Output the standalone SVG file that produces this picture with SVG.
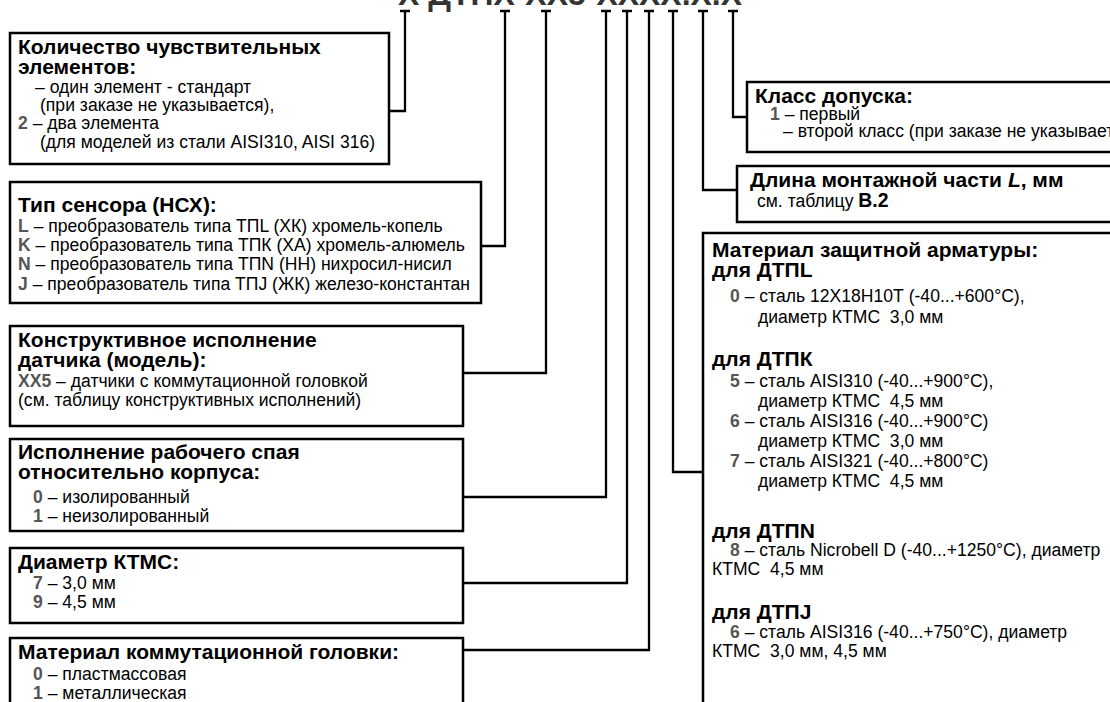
<svg xmlns="http://www.w3.org/2000/svg" width="1110" height="702" viewBox="0 0 1110 702">
<style>
.box{fill:#fff;stroke:#000;stroke-width:2.5}
.ln{fill:none;stroke:#000;stroke-width:2.3}
.h{font-family:"Liberation Sans",Arial,sans-serif;font-weight:bold;font-size:21px;fill:#000}
.t{font-family:"Liberation Sans",Arial,sans-serif;font-size:19px;fill:#000}
.c{font-weight:bold;fill:#555}
.title{font-family:"Liberation Sans",Arial,sans-serif;font-weight:bold;font-size:32px;fill:#333}
</style>
<rect width="1110" height="702" fill="#fff"/>

<!-- designation code, mostly above the top edge -->
<text class="title" x="398" y="5" textLength="344" lengthAdjust="spacingAndGlyphs">Х ДТПХ-ХХ5-ХХХХ.Х.Х</text>

<g id="connectors">
  <path class="ln" d="M400 11h10M500 11h10M541 11h10M601 11h10M622 11h10M644 11h10M668 11h10M698 11h10M728 11h10"/>
  <path class="ln" d="M405 11V111H389"/>
  <path class="ln" d="M505 11V246H481"/>
  <path class="ln" d="M546 11V373H463"/>
  <path class="ln" d="M606 11V497H463"/>
  <path class="ln" d="M627 11V583H463"/>
  <path class="ln" d="M649 11V650H463"/>
  <path class="ln" d="M673 11V472H703"/>
  <path class="ln" d="M703 11V190H737"/>
  <path class="ln" d="M733 11V117H747"/>
</g>

<!-- condensed body text: regular face squeezed horizontally -->
<g id="count">
  <rect class="box" x="10" y="33" width="379" height="131"/>
  <text class="h" x="18" y="54">Количество чувствительных</text>
  <text class="h" x="18" y="74">элементов:</text>
  <text class="t" transform="translate(35 93) scale(.925 1)">– один элемент - стандарт</text>
  <text class="t" transform="translate(40 111) scale(.925 1)">(при заказе не указывается),</text>
  <text class="t" transform="translate(18 129) scale(.925 1)"><tspan class="c">2</tspan> – два элемента</text>
  <text class="t" transform="translate(40 148) scale(.925 1)">(для моделей из стали AISI310, AISI 316)</text>
</g>

<g id="sensor-type">
  <rect class="box" x="10" y="182" width="471" height="121"/>
  <text class="h" x="18" y="212">Тип сенсора (НСХ):</text>
  <text class="t" transform="translate(18 232) scale(.925 1)"><tspan class="c">L</tspan> – преобразователь типа ТПL (ХК) хромель-копель</text>
  <text class="t" transform="translate(18 251) scale(.925 1)"><tspan class="c">K</tspan> – преобразователь типа ТПК (ХА) хромель-алюмель</text>
  <text class="t" transform="translate(18 270) scale(.925 1)"><tspan class="c">N</tspan> – преобразователь типа ТПN (НН) нихросил-нисил</text>
  <text class="t" transform="translate(18 290) scale(.925 1)"><tspan class="c">J</tspan> – преобразователь типа ТПJ (ЖК) железо-константан</text>
</g>

<g id="model">
  <rect class="box" x="10" y="326" width="453" height="100"/>
  <text class="h" x="18" y="347">Конструктивное исполнение</text>
  <text class="h" x="18" y="367">датчика (модель):</text>
  <text class="t" transform="translate(18 387) scale(.925 1)"><tspan class="c">XX5</tspan> – датчики с коммутационной головкой</text>
  <text class="t" transform="translate(18 406) scale(.925 1)">(см. таблицу конструктивных исполнений)</text>
</g>

<g id="junction">
  <rect class="box" x="10" y="439" width="453" height="92"/>
  <text class="h" x="18" y="459">Исполнение рабочего спая</text>
  <text class="h" x="18" y="479">относительно корпуса:</text>
  <text class="t" transform="translate(33 503) scale(.925 1)"><tspan class="c">0</tspan> – изолированный</text>
  <text class="t" transform="translate(33 522) scale(.925 1)"><tspan class="c">1</tspan> – неизолированный</text>
</g>

<g id="diameter">
  <rect class="box" x="10" y="548" width="453" height="75"/>
  <text class="h" x="18" y="569">Диаметр КТМС:</text>
  <text class="t" transform="translate(33 589) scale(.925 1)"><tspan class="c">7</tspan> – 3,0 мм</text>
  <text class="t" transform="translate(33 608) scale(.925 1)"><tspan class="c">9</tspan> – 4,5 мм</text>
</g>

<g id="head-material">
  <rect class="box" x="10" y="638" width="453" height="90"/>
  <text class="h" x="18" y="659">Материал коммутационной головки:</text>
  <text class="t" transform="translate(33 680) scale(.925 1)"><tspan class="c">0</tspan> – пластмассовая</text>
  <text class="t" transform="translate(33 699) scale(.925 1)"><tspan class="c">1</tspan> – металлическая</text>
</g>

<g id="tolerance-class">
  <rect class="box" x="747" y="82" width="380" height="70"/>
  <text class="h" x="755" y="103">Класс допуска:</text>
  <text class="t" transform="translate(770 120) scale(.925 1)"><tspan class="c">1</tspan> – первый</text>
  <text class="t" transform="translate(783 137) scale(.925 1)">– второй класс (при заказе не указывается)</text>
</g>

<g id="length">
  <rect class="box" x="737" y="166" width="390" height="56"/>
  <text class="h" x="750" y="187">Длина монтажной части <tspan font-style="italic">L</tspan>, мм</text>
  <text class="t" transform="translate(757 207) scale(.925 1)">см. таблицу <tspan font-weight="bold" font-size="21">В.2</tspan></text>
</g>

<g id="sheath-material">
  <rect class="box" x="703" y="233" width="420" height="490"/>
  <text class="h" x="712" y="257">Материал защитной арматуры:</text>
  <text class="h" x="712" y="277">для ДТПL</text>
  <text class="t" transform="translate(730 302) scale(.925 1)"><tspan class="c">0</tspan> – сталь 12Х18Н10Т (-40...+600°С),</text>
  <text class="t" transform="translate(758 323) scale(.925 1)" xml:space="preserve">диаметр КТМС  3,0 мм</text>
  <text class="h" x="712" y="366">для ДТПК</text>
  <text class="t" transform="translate(730 387) scale(.925 1)"><tspan class="c">5</tspan> – сталь AISI310 (-40...+900°С),</text>
  <text class="t" transform="translate(758 407) scale(.925 1)" xml:space="preserve">диаметр КТМС  4,5 мм</text>
  <text class="t" transform="translate(730 427) scale(.925 1)"><tspan class="c">6</tspan> – сталь AISI316 (-40...+900°С)</text>
  <text class="t" transform="translate(758 447) scale(.925 1)" xml:space="preserve">диаметр КТМС  3,0 мм</text>
  <text class="t" transform="translate(730 467) scale(.925 1)"><tspan class="c">7</tspan> – сталь AISI321 (-40...+800°С)</text>
  <text class="t" transform="translate(758 487) scale(.925 1)" xml:space="preserve">диаметр КТМС  4,5 мм</text>
  <text class="h" x="712" y="538">для ДТПN</text>
  <text class="t" transform="translate(730 556) scale(.925 1)"><tspan class="c">8</tspan> – сталь Nicrobell D (-40...+1250°С), диаметр</text>
  <text class="t" transform="translate(712 575) scale(.925 1)" xml:space="preserve">КТМС  4,5 мм</text>
  <text class="h" x="712" y="619">для ДТПJ</text>
  <text class="t" transform="translate(730 638) scale(.925 1)"><tspan class="c">6</tspan> – сталь AISI316 (-40...+750°С), диаметр</text>
  <text class="t" transform="translate(712 657) scale(.925 1)" xml:space="preserve">КТМС  3,0 мм, 4,5 мм</text>
</g>
</svg>
